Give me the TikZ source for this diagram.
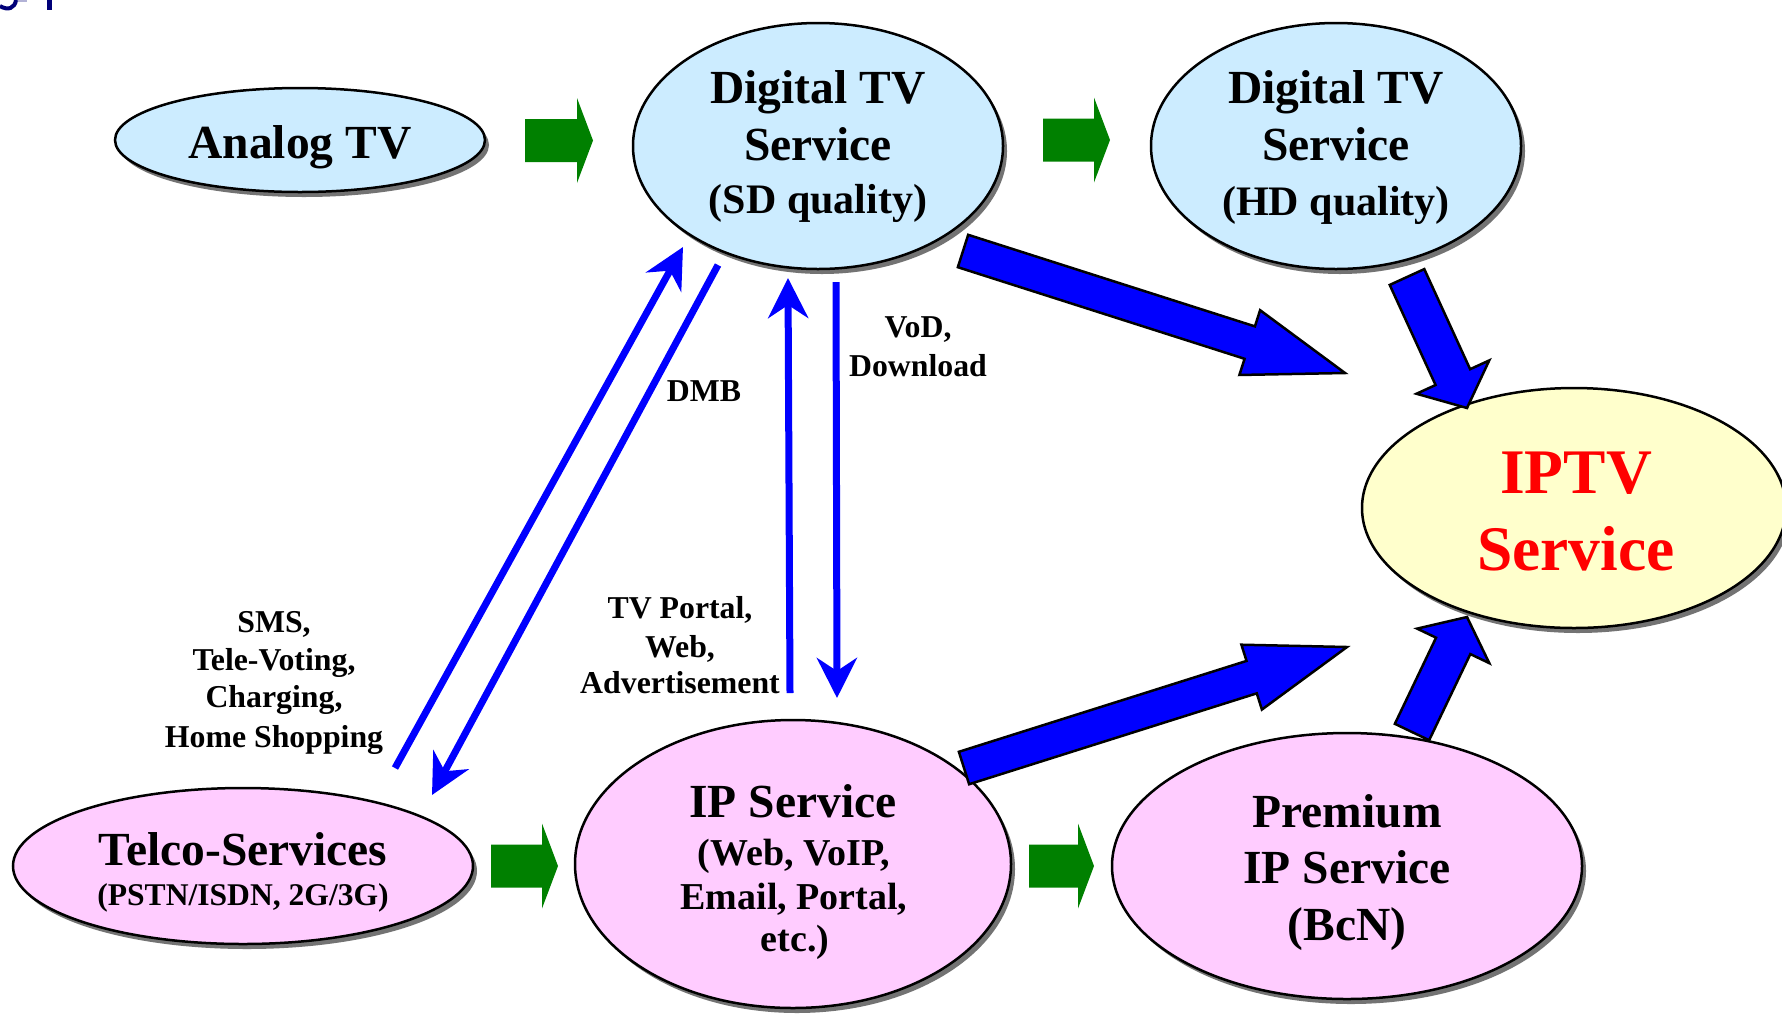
\documentclass[tikz,border=0pt]{standalone}
\usepackage{fontspec}
\setmainfont{Liberation Serif}
\usetikzlibrary{arrows.meta,calc,shapes.geometric,shadows}

\definecolor{tvblue}{RGB}{204,236,255}
\definecolor{svcpink}{RGB}{255,204,255}
\definecolor{iptvyellow}{RGB}{255,255,204}
\definecolor{flowgreen}{RGB}{0,128,0}
\definecolor{flowblue}{RGB}{0,0,255}
\definecolor{titlenavy}{RGB}{0,0,120}

% Block arrow as a polygon: #1 style, #2 tail, #3 tip,
% #4 half body width, #5 half head width, #6 head length
\newcommand\blockarrow[6]{%
  \coordinate (ba-h) at ($(#3)!#6!(#2)$);
  \draw[#1] ($(#2)!#4!90:(#3)$) -- ($(ba-h)!#4!90:(#3)$) -- ($(ba-h)!#5!90:(#3)$)
    -- (#3) -- ($(ba-h)!#5!-90:(#3)$) -- ($(ba-h)!#4!-90:(#3)$)
    -- ($(#2)!#4!-90:(#3)$) -- cycle;}

\begin{document}
\begin{tikzpicture}[x=1pt,y=-1pt,
  svc/.style={ellipse, draw=black, line width=2.5pt, inner sep=0pt,
    drop shadow={shadow xshift=4pt, shadow yshift=-5pt, fill=black!55, opacity=1}},
  big/.style={font=\fontsize{47.5}{55}\selectfont\bfseries, anchor=base, inner sep=0pt},
  qual/.style={font=\fontsize{42}{50}\selectfont\bfseries, anchor=base, inner sep=0pt},
  huge/.style={font=\fontsize{63.5}{75}\selectfont\bfseries, anchor=base, inner sep=0pt, text=red},
  sub/.style={font=\fontsize{38}{44}\selectfont\bfseries, anchor=base, inner sep=0pt},
  small/.style={font=\fontsize{31.6}{38}\selectfont\bfseries, anchor=base, inner sep=0pt},
  lbl/.style={font=\fontsize{31.8}{38}\selectfont\bfseries, anchor=base, inner sep=0pt},
  greenflow/.style={fill=flowgreen, draw=none},
  blueflow/.style={fill=flowblue, draw=black, line width=2.5pt},
  thinflow/.style={draw=flowblue, line width=7pt, -{Stealth[length=40pt, width=40pt, inset=13pt]}}]

\fill[white] (0,0) rectangle (1782,1013);
\useasboundingbox (0,0) rectangle (1782,1013);

% remains of the heading line above
\draw[titlenavy, line width=4pt] (0,6) .. controls (8,11) and (15,8) .. (16,0);
\fill[titlenavy!30] (18,0) rectangle (27,2);
\fill[titlenavy] (47,0) rectangle (52,10);

% service ellipses
\node[svc, fill=tvblue, minimum width=370pt, minimum height=104pt] (analog) at (300,140) {};
\node[svc, fill=tvblue, minimum width=370pt, minimum height=246pt] (sd) at (818,146) {};
\node[svc, fill=tvblue, minimum width=370pt, minimum height=246pt] (hd) at (1336,146) {};
\node[svc, fill=iptvyellow, minimum width=424pt, minimum height=240pt] (iptv) at (1574,508) {};
\node[svc, fill=svcpink, minimum width=460pt, minimum height=156pt] (telco) at (243,866) {};
\node[svc, fill=svcpink, minimum width=436pt, minimum height=288pt] (ip) at (793,864) {};
\node[svc, fill=svcpink, minimum width=470pt, minimum height=266pt] (prem) at (1347,866) {};

% ellipse texts
\node[big] (analogT) at (300,158) {Analog TV};
\node[big] (sdT1) at (818,103) {Digital TV};
\node[big] (sdT2) at (818,160) {Service};
\node[qual] (sdT3) at (818,213) {(SD quality)};
\node[big] (hdT1) at (1336,103) {Digital TV};
\node[big] (hdT2) at (1336,160) {Service};
\node[qual] (hdT3) at (1336,215) {(HD quality)};
\node[huge] (iptvT1) at (1576,493) {IPTV};
\node[huge] (iptvT2) at (1576,570) {Service};
\node[big] (telcoT1) at (243,865) {Telco-Services};
\node[small] (telcoT2) at (243,905) {(PSTN/ISDN, 2G/3G)};
\node[big] (ipT1) at (793,817) {IP Service};
\node[sub] (ipT2) at (794,865) {(Web, VoIP,};
\node[sub] (ipT3) at (794,909) {Email, Portal,};
\node[sub] (ipT4) at (795,951) {etc.)};
\node[big] (premT1) at (1347,827) {Premium};
\node[big] (premT2) at (1347,883) {IP Service};
\node[big] (premT3) at (1347,940) {(BcN)};

% connector labels
\node[lbl] (vod1) at (918,337) {VoD,};
\node[lbl] (vod2) at (918,376) {Download};
\node[lbl] (dmb) at (704,401) {DMB};
\node[lbl] (tvp1) at (680,618) {TV Portal,};
\node[lbl] (tvp2) at (680,657) {Web,};
\node[lbl] (tvp3) at (680,693) {Advertisement};
\node[lbl] (sms1) at (274,632) {SMS,};
\node[lbl] (sms2) at (274,670) {Tele-Voting,};
\node[lbl] (sms3) at (274,707) {Charging,};
\node[lbl] (sms4) at (274,747) {Home Shopping};

% evolution steps (green)
\coordinate (g1s) at (525,140.5);  \coordinate (g1e) at (593,140.5);
\coordinate (g2s) at (1043,140);   \coordinate (g2e) at (1110,140);
\coordinate (g3s) at (491,866);    \coordinate (g3e) at (558,866);
\coordinate (g4s) at (1029,866);   \coordinate (g4e) at (1094,866);
\blockarrow{greenflow}{g1s}{g1e}{21.5pt}{42.5pt}{16pt}
\blockarrow{greenflow}{g2s}{g2e}{21.5pt}{42.5pt}{16pt}
\blockarrow{greenflow}{g3s}{g3e}{21.5pt}{42.5pt}{16pt}
\blockarrow{greenflow}{g4s}{g4e}{21.5pt}{42.5pt}{16pt}

% convergence into IPTV (blue)
\coordinate (sdOutS) at (963,251);  \coordinate (sdOutE) at (1345,373);
\coordinate (hdOutS) at (1407,277); \coordinate (hdOutE) at (1467,408);
\coordinate (ipOutS) at (964,768);  \coordinate (ipOutE) at (1347,647);
\coordinate (prOutS) at (1412,732); \coordinate (prOutE) at (1467,617);
\blockarrow{blueflow}{sdOutS}{sdOutE}{17pt}{34pt}{100pt}
\blockarrow{blueflow}{hdOutS}{hdOutE}{19pt}{40pt}{34pt}
\blockarrow{blueflow}{ipOutS}{ipOutE}{17pt}{34pt}{100pt}
\blockarrow{blueflow}{prOutS}{prOutE}{19pt}{40pt}{32pt}

% service links
\coordinate (dmbUpS) at (395,768); \coordinate (dmbUpE) at (683,247);
\coordinate (dmbDnS) at (718,265); \coordinate (dmbDnE) at (432,795);
\coordinate (ipUpS) at (790,693);  \coordinate (ipUpE) at (788,278);
\coordinate (vodS) at (836,282);   \coordinate (vodE) at (837,698);
\draw[thinflow] (dmbUpS) -- (dmbUpE);
\draw[thinflow] (dmbDnS) -- (dmbDnE);
\draw[thinflow] (ipUpS) -- (ipUpE);
\draw[thinflow] (vodS) -- (vodE);
\end{tikzpicture}
\end{document}
